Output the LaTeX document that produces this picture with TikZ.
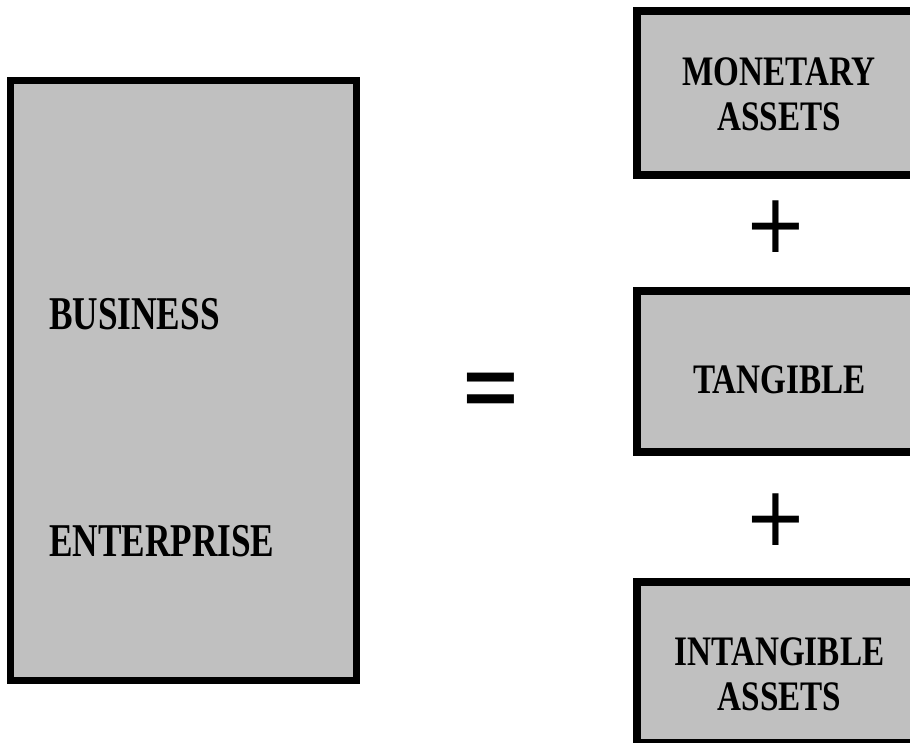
\documentclass[tikz,border=0pt]{standalone}
\usepackage{fontspec}
\setmainfont{Liberation Serif}
\newfontfamily\symfont{DejaVu Sans}
\definecolor{boxgray}{RGB}{192,192,192}
\newcommand{\sqz}[2][0.79]{\scalebox{#1}[1]{#2}}
\begin{document}
\begin{tikzpicture}[x=1pt,y=-1pt,
  bigbox/.style={draw=black, fill=boxgray, line width=7pt, rectangle, inner sep=0pt,
    minimum width=346pt, minimum height=600pt},
  partbox/.style={draw=black, fill=boxgray, line width=8pt, rectangle, inner sep=0pt,
    minimum width=320pt, minimum height=161pt},
  lefttxt/.style={font=\fontsize{47}{50}\selectfont\bfseries, inner sep=0pt, anchor=base west},
  righttxt/.style={font=\fontsize{42}{45}\selectfont\bfseries, inner sep=0pt, anchor=north, align=center},
  sym/.style={font=\symfont\mdseries\fontsize{75}{75}\selectfont, inner sep=0pt}]
\path[use as bounding box] (0,0) rectangle (910,742);
\clip (0,0) rectangle (910,742);
% left box
\node[bigbox] (enterprise) at (183.5,380.5) {};
\node[lefttxt] (business) at (49,329) {\sqz[0.75]{BUSINESS}};
\node[lefttxt] (enterp) at (49,556) {\sqz[0.75]{ENTERPRISE}};
% equals
\node[sym] (eq) at (491,397.5) {\scalebox{1}[1.45]{=}};
% right boxes
\node[partbox, minimum height=164pt] (monetary) at (797,93) {};
\node[partbox] (tangible) at (797,371.5) {};
\node[partbox] (intangible) at (797,662.5) {};
\node[righttxt] (montxt) at (779,57) {\sqz{MONETARY}\\\sqz{ASSETS}};
\node[righttxt] (tantxt) at (779.5,365) {\sqz{TANGIBLE}};
\node[righttxt] (inttxt) at (779.5,637) {\sqz{INTANGIBLE}\\\sqz{ASSETS}};
% plus signs
\node[sym] (plusA) at (775.5,227) {\scalebox{1}[1.1]{+}};
\node[sym] (plusB) at (775.5,519.5) {\scalebox{1}[1.1]{+}};
\end{tikzpicture}
\end{document}
